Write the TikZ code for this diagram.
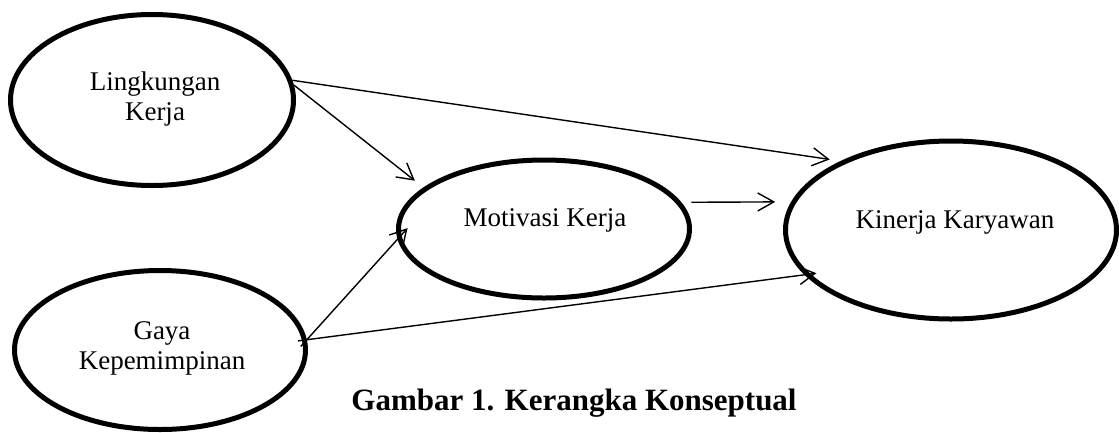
\documentclass[tikz,border=0pt]{standalone}
\usepackage{fontspec}
\setmainfont{Liberation Serif}
\usetikzlibrary{shapes.geometric,arrows.meta}

\begin{document}
\begin{tikzpicture}[x=1pt,y=-1pt,
	oval/.style={draw, ellipse, line width=5pt, inner sep=0pt},
	txt/.style={align=center, font=\fontsize{27}{30}\selectfont},
	arr/.style={line width=1.4pt, -{Straight Barb[length=16pt,width=18pt,line width=1.4pt]}}]
	\useasboundingbox (0,0) rectangle (1119,432);
	% variabel
	\node[oval, minimum width=283pt, minimum height=171pt] (lk) at (152,100) {};
	\node[oval, minimum width=291pt, minimum height=159pt] (gy) at (160,350) {};
	\node[oval, minimum width=291pt, minimum height=138pt] (mv) at (544,229) {};
	\node[oval, minimum width=331pt, minimum height=178pt] (kj) at (951,230) {};
	\node[txt] (lktext) at (155,99) {Lingkungan\\Kerja};
	\node[txt] (gytext) at (162,348) {Gaya\\Kepemimpinan};
	\node[txt, anchor=base] (mvtext) at (545,226) {Motivasi Kerja};
	\node[txt, anchor=base] (kjtext) at (955,228) {Kinerja Karyawan};
	% panah
	\draw[arr, shorten >=11pt] (lk.8) -- (kj.148);
	\draw[arr, shorten >=11pt] (lk.6) -- (mv.161);
	\draw[arr, shorten <=10pt, shorten >=16pt] (mv.11) -- (kj.170);
	\draw[arr, shorten <=-9pt, shorten >=-15pt] (gy.4) -- (mv.184);
	\draw[arr, shorten <=-9pt, shorten >=-12pt] (gy.4) -- (kj.197);
	% judul
	\node[anchor=base, font=\bfseries\fontsize{31}{36}\selectfont] (judul) at (574,410) {Gambar 1. Kerangka Konseptual};
\end{tikzpicture}
\end{document}
